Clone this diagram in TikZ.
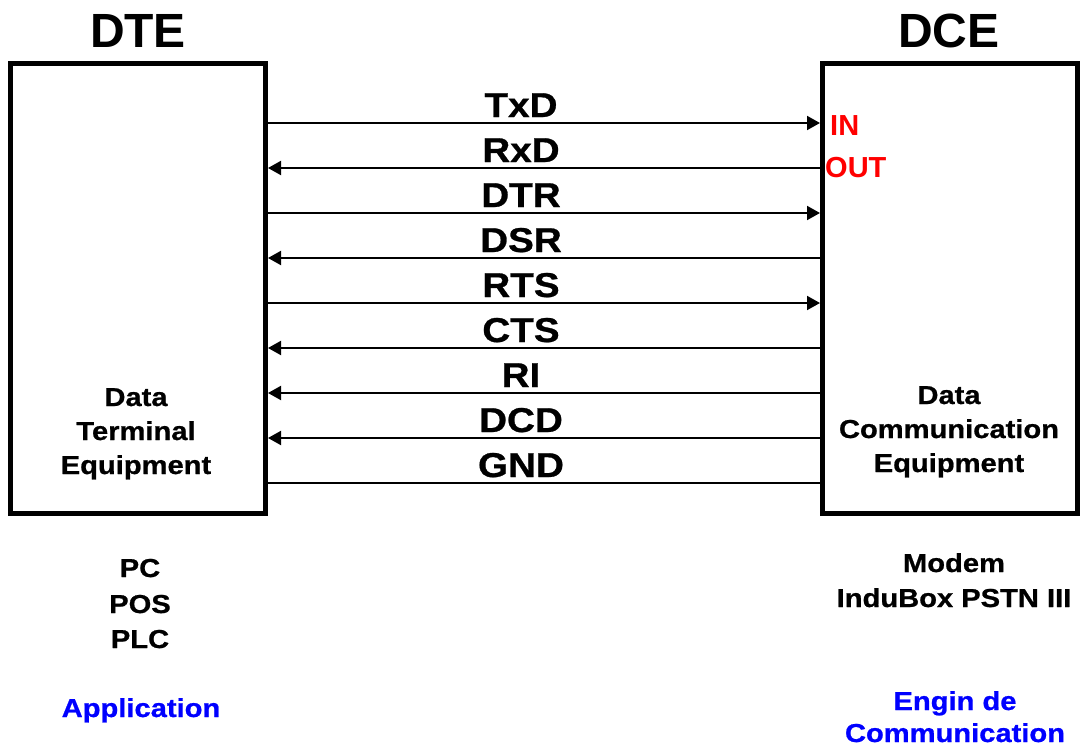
\documentclass[tikz,border=0pt]{standalone}
\usepackage{fontspec}
\setmainfont{Liberation Sans}
\newfontfamily\widesans[FakeStretch=1.12,FakeBold=0.8]{Liberation Sans}
\usetikzlibrary{arrows.meta}

\tikzset{
  title/.style={font=\fontsize{48}{48}\selectfont\bfseries, inner sep=0pt, anchor=base},
  siglabel/.style={font=\widesans\fontsize{34.5}{34.5}\selectfont\bfseries, inner sep=0pt, anchor=base},
  caption/.style={font=\widesans\fontsize{26}{26}\selectfont\bfseries, inner sep=0pt, anchor=base},
  role/.style={caption, text={rgb,255:red,0;green,0;blue,255}},
  port/.style={font=\fontsize{29}{29}\selectfont\bfseries, text={rgb,255:red,255;green,0;blue,0}, inner sep=0pt, anchor=base west},
  equipment/.style={draw, line width=5pt, minimum width=255pt, minimum height=450pt, inner sep=0pt},
  wire/.style={line width=2pt},
  tip/.tip={Triangle[length=13pt,width=14pt]},
  dirr/.style={-tip},
  dirl/.style={tip-},
  dirn/.style={-},
}

\begin{document}
\begin{tikzpicture}[x=1pt,y=-1pt]
  \useasboundingbox (0,0) rectangle (1080,750);

  % the two equipment boxes and their titles
  \node[equipment] (dte) at (138,288) {};
  \node[equipment] (dce) at (950,288) {};
  \node[title] (dtetitle) at (138,47) {DTE};
  \node[title] (dcetitle) at (949,47) {DCE};

  % interface signals, one every 45 units
  \foreach \name/\dir [count=\i from 0] in
      {TxD/r, RxD/l, DTR/r, DSR/l, RTS/r, CTS/l, RI/l, DCD/l, GND/n} {
    \pgfmathsetmacro\ypos{123+45*\i}
    \coordinate (l\i) at (perpendicular cs: horizontal line through={(0,\ypos)}, vertical line through={(dte.east)});
    \coordinate (r\i) at (perpendicular cs: horizontal line through={(0,\ypos)}, vertical line through={(dce.west)});
    \draw[wire, dir\dir] (l\i) -- (r\i);
    \node[siglabel] (s\i) at (521,\ypos-6) {\name};
  }

  % direction marks on the DCE side
  \node[port] (in) at (830,135) {IN};
  \node[port] (out) at (825,177) {OUT};

  % text inside the boxes
  \node[caption] (dte1) at (136,406) {Data};
  \node[caption] (dte2) at (136,440) {Terminal};
  \node[caption] (dte3) at (136,474) {Equipment};
  \node[caption] (dce1) at (949,404) {Data};
  \node[caption] (dce2) at (949,438) {Communication};
  \node[caption] (dce3) at (949,472) {Equipment};

  % examples below the boxes
  \node[caption] (pc) at (140,577) {PC};
  \node[caption] (pos) at (140,613) {POS};
  \node[caption] (plc) at (140,648) {PLC};
  \node[role] (app) at (141,717) {Application};

  \node[caption] (modem) at (954,572) {Modem};
  \node[caption] (indubox) at (954,607) {InduBox PSTN III};
  \node[role] (engin1) at (955,710) {Engin de};
  \node[role] (engin2) at (955,742) {Communication};
\end{tikzpicture}
\end{document}
